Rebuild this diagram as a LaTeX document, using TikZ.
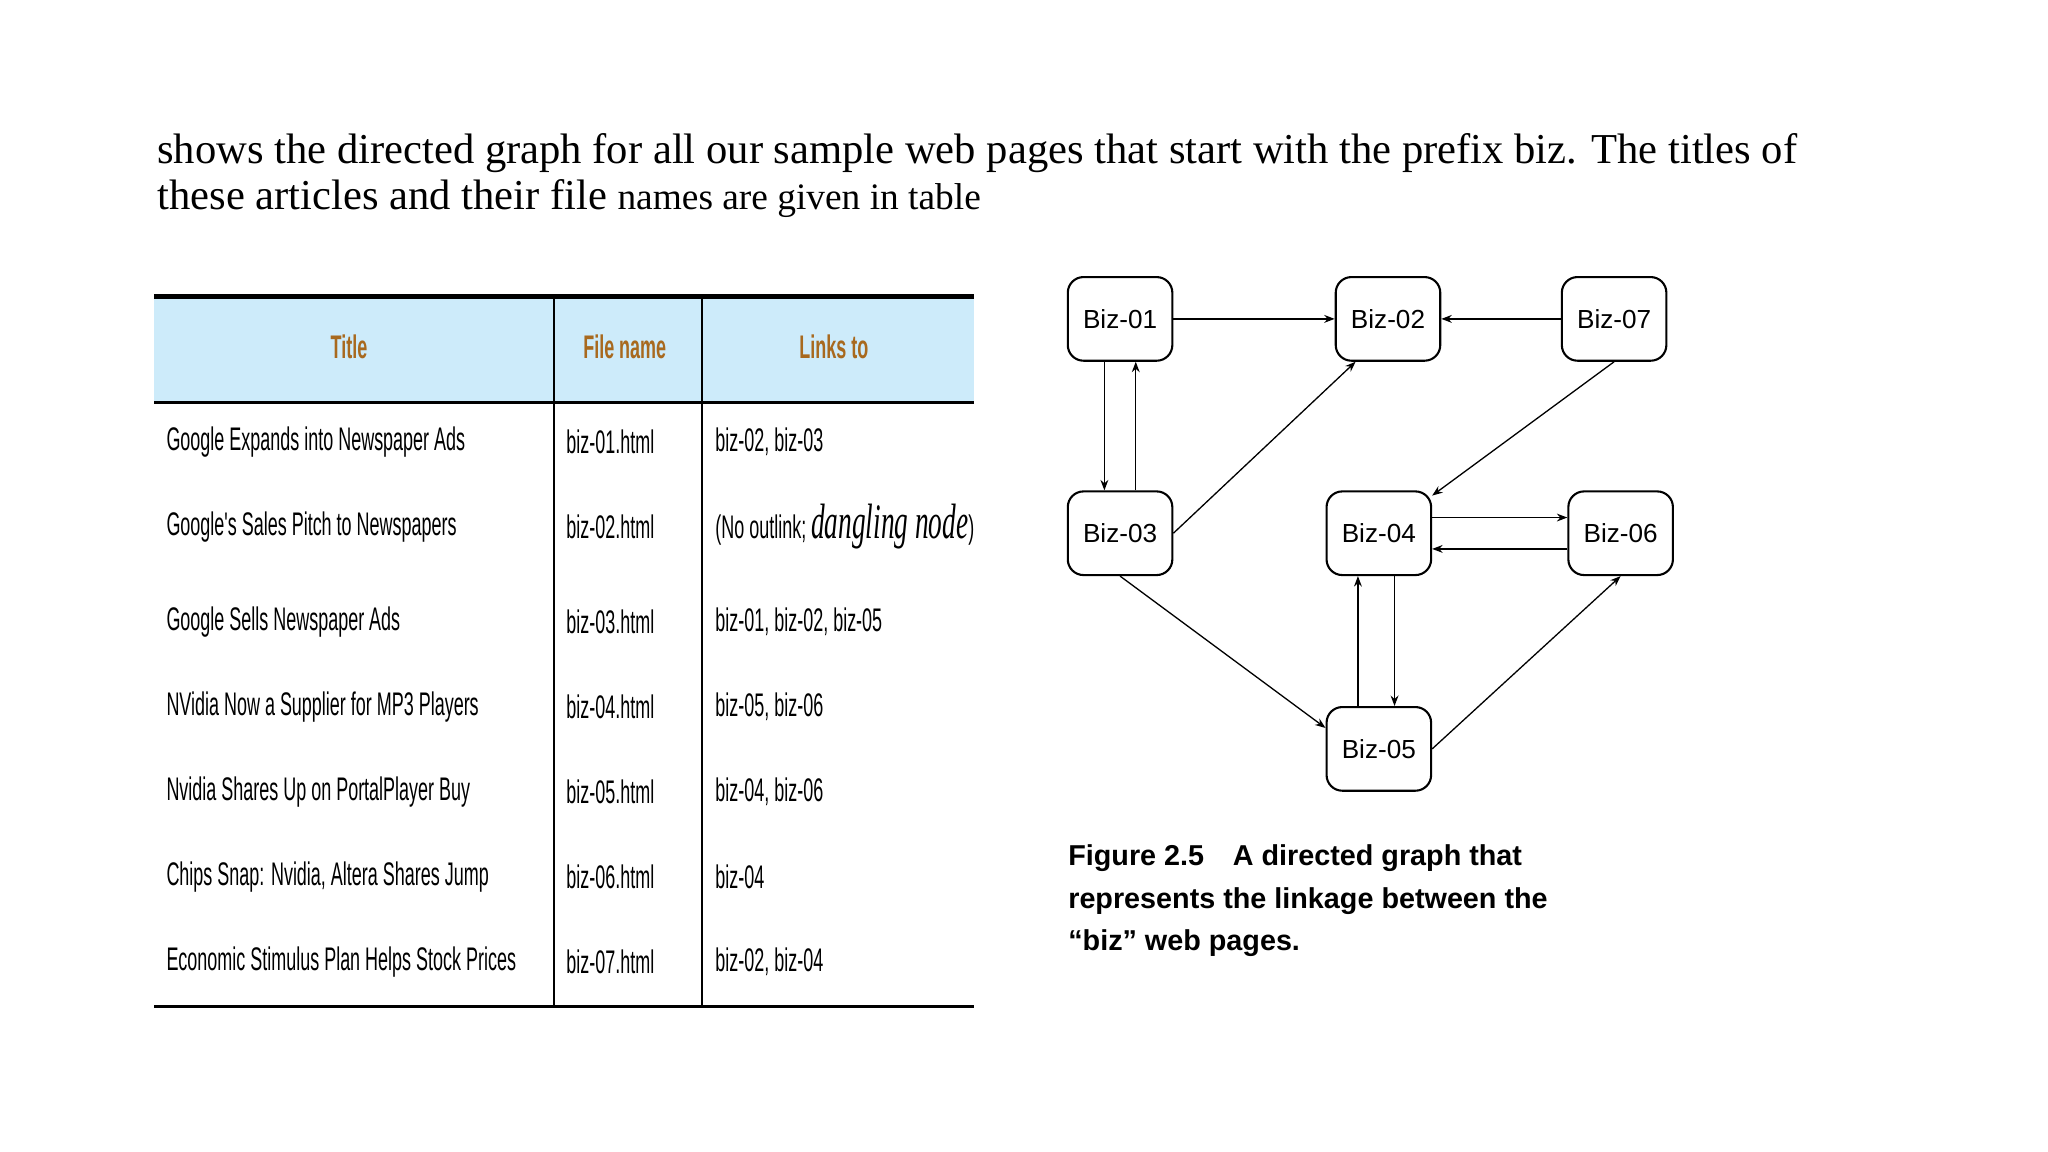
\documentclass[tikz,border=0pt]{standalone}
\usepackage{fontspec}
\setmainfont{Liberation Serif}
\newfontfamily\sans{Liberation Sans}
\usetikzlibrary{arrows.meta}
\definecolor{hdr}{HTML}{CDEBFA}
\definecolor{hbrown}{HTML}{A8691E}
\begin{document}
\begin{tikzpicture}[x=0.5pt,y=-0.5pt,
  biz/.style={draw,thick,rounded corners=6pt,minimum width=40pt,minimum height=32pt,font=\sans\fontsize{10}{12}\selectfont},
  ar/.style={-{Stealth[length=4pt,width=3pt]},line width=0.5pt},
  cell/.style={anchor=west,inner sep=0pt,font=\sans\fontsize{12.5}{14}\selectfont},
  hd/.style={inner sep=0pt,text=hbrown,font=\sans\bfseries\fontsize{12.5}{14}\selectfont}]
\useasboundingbox (0,0) rectangle (1567,881);
% paragraph
\node[anchor=base west,inner sep=0pt,font=\fontsize{16.3}{18}\selectfont] (p1) at (120,125) {shows the directed graph for all our sample web pages that start with the prefix biz. The titles of};
\node[anchor=base west,inner sep=0pt,font=\fontsize{16.3}{18}\selectfont] (p2) at (120,160) {these articles and their file \fontsize{14.3}{16}\selectfont names are given in table};
% table
\fill[hdr] (118,227) rectangle (745,308);
\draw[line width=2pt] (118,227) -- (745,227);
\draw[line width=1pt] (118,308) -- (745,308);
\draw[line width=1pt] (118,770) -- (745,770);
\draw[line width=0.6pt] (424,227) -- (424,770) (537,227) -- (537,770);
\node[hd] (h1) at (267,265) {\scalebox{0.55}[1]{Title}};
\node[hd] (h2) at (478,265) {\scalebox{0.55}[1]{File name}};
\node[hd] (h3) at (638,265) {\scalebox{0.55}[1]{Links to}};
\foreach \y/\t/\f/\l [count=\i] in {
 338/Google Expands into Newspaper Ads/biz-01.html/{biz-02, biz-03},
 403/Google's Sales Pitch to Newspapers/biz-02.html/{(No outlink; {\rmfamily\fontsize{19}{19}\selectfont\itshape dangling node})},
 476/Google Sells Newspaper Ads/biz-03.html/{biz-01, biz-02, biz-05},
 541/NVidia Now a Supplier for MP3 Players/biz-04.html/{biz-05, biz-06},
 606/Nvidia Shares Up on PortalPlayer Buy/biz-05.html/{biz-04, biz-06},
 671/{Chips Snap: Nvidia, Altera Shares Jump}/biz-06.html/biz-04,
 736/Economic Stimulus Plan Helps Stock Prices/biz-07.html/{biz-02, biz-04}}{
  \node[cell] (t\i) at (127,\y) {\scalebox{0.55}[1]{\t}};
  \node[cell] (f\i) at (433,\y) {\scalebox{0.55}[1]{\f}};
  \node[cell] (l\i) at (547,\y) {\scalebox{0.55}[1]{\l}};
}
% graph
\node[biz] (b1) at (857,244) {Biz-01};
\node[biz] (b2) at (1062,244) {Biz-02};
\node[biz] (b7) at (1235,244) {Biz-07};
\node[biz] (b3) at (857,408) {Biz-03};
\node[biz] (b4) at (1055,408) {Biz-04};
\node[biz] (b6) at (1240,408) {Biz-06};
\node[biz] (b5) at (1055,573) {Biz-05};
\draw[ar] (b1) -- (b2);
\draw[ar] (b7) -- (b2);
\draw[ar] ([xshift=-6]b1.south) -- ([xshift=-6]b3.north);
\draw[ar] ([xshift=6]b3.north) -- ([xshift=6]b1.south);
\draw[ar] (b3.east) -- ([xshift=8]b2.south west);
\draw[ar] (b7.south) -- ([yshift=-2]b4.north east);
\draw[ar] ([yshift=6]b4.east) -- ([yshift=6]b6.west);
\draw[ar] ([yshift=-6]b6.west) -- ([yshift=-6]b4.east);
\draw[ar] ([xshift=-8]b5.north) -- ([xshift=-8]b4.south);
\draw[ar] ([xshift=6]b4.south) -- ([xshift=6]b5.north);
\draw[ar] (b3.south) -- ([yshift=8]b5.west);
\draw[ar] (b5.east) -- (b6.south);
% caption
\node[anchor=north west,align=left,inner sep=0pt,font=\sans\bfseries\fontsize{11}{16.3}\selectfont] (cap) at (817,646) {Figure 2.5\quad A directed graph that\\represents the linkage between the\\“biz” web pages.};
\end{tikzpicture}
\end{document}
